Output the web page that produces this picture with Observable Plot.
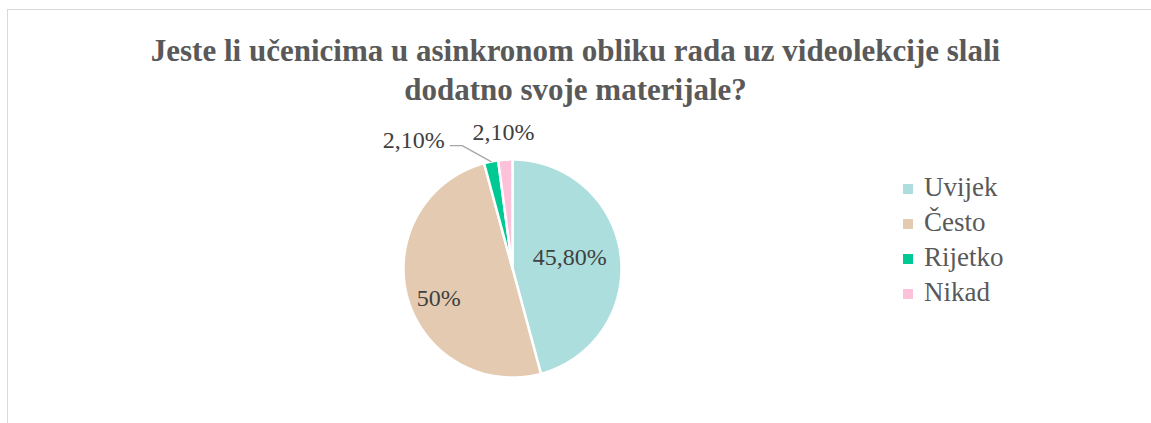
<!DOCTYPE html>
<html>
<head>
<meta charset="utf-8">
<script src="https://cdn.jsdelivr.net/npm/d3@7"></script>
<script src="https://cdn.jsdelivr.net/npm/@observablehq/plot@0.6"></script>
<style>
  html, body { margin: 0; padding: 0; background: #fff; }
  #wrap { position: relative; width: 1151px; height: 423px; overflow: hidden; font-family: "Liberation Serif", "Times New Roman", serif; }
  #frame { position: absolute; left: 7px; top: 9px; width: 1200px; height: 500px; border-top: 1px solid #d9d9d9; border-left: 1px solid #d9d9d9; }
  #title { position: absolute; left: 0; top: 31px; width: 1151px; text-align: center; font-weight: bold; font-size: 31px; line-height: 39px; color: #595959; }
  #legend { position: absolute; left: 903px; top: 170px; font-size: 27px; color: #595959; font-family: "Liberation Serif", "Times New Roman", serif; }
  .li { height: 35px; line-height: 35px; white-space: nowrap; }
  .sw { display: inline-block; width: 10px; height: 10px; margin-right: 11px; vertical-align: 2px; }
  #chart { position: absolute; left: 0; top: 0; }
</style>
</head>
<body>
<div id="wrap">
  <div id="frame"></div>
  <div id="chart"></div>
  <div id="title">Jeste li učenicima u asinkronom obliku rada uz videolekcije slali<br>dodatno svoje materijale?</div>
  <div id="legend"></div>
</div>
<script>
// ---- data ----
const categories = ["Uvijek", "Često", "Rijetko", "Nikad"];
const values = [45.8, 50, 2.1, 2.1];
const labels = ["45,80%", "50%", "2,10%", "2,10%"];
const colors = ["#acdedd", "#e4cab0", "#00c994", "#fdc1da"];

// ---- build slices ----
const table = categories.map((c, i) => ({category: c, value: values[i], label: labels[i]}));
const arcs = d3.pie().sort(null).value(d => d.value)(table);
const polar = (r, a) => ({x: r * Math.sin(a), y: r * Math.cos(a)});

const slicePts = [];
arcs.forEach(a => {
  const n = Math.max(4, Math.ceil((a.endAngle - a.startAngle) / (Math.PI / 360)));
  slicePts.push({category: a.data.category, ...polar(0, 0)});
  for (let k = 0; k <= n; k++) {
    const ang = a.startAngle + (a.endAngle - a.startAngle) * k / n;
    slicePts.push({category: a.data.category, ...polar(1, ang)});
  }
  slicePts.push({category: a.data.category, ...polar(0, 0)});
});

const mid = a => (a.startAngle + a.endAngle) / 2;
const big = arcs.filter(a => a.data.value >= 10);
const small = arcs.filter(a => a.data.value < 10);
const labU = [{label: big[0].data.label, ...polar(0.53, mid(big[0]))}];
const labC = [{label: big[1].data.label, ...polar(0.72, mid(big[1]))}];
const nik = small[1];
const labN = [{label: nik.data.label, ...polar(1.25, mid(nik))}];
const rij = small[0];
const edge = polar(1.0, mid(rij));
const elbow = {x: edge.x - 0.265, y: edge.y + 0.147};
const lineEnd = {x: elbow.x - 0.11, y: elbow.y};
const leader = [edge, elbow, lineEnd];
const labR = [{label: rij.data.label, x: lineEnd.x - 0.05, y: lineEnd.y + 0.045}];

const font = {fill: "#404040", fontSize: 24, fontFamily: "Liberation Serif, Times New Roman, serif"};
const chart = Plot.plot({
  width: 1151,
  height: 423,
  margin: 0,
  x: {domain: [-1, 1], range: [403, 621], axis: null},
  y: {domain: [-1, 1], range: [377, 159], axis: null},
  color: {domain: categories, range: colors},
  style: {background: "transparent", overflow: "visible"},
  marks: [
    Plot.line(slicePts, {x: "x", y: "y", z: "category", fill: "category", stroke: "white", strokeWidth: 2.5, strokeLinejoin: "miter", curve: "linear"}),
    Plot.line(leader, {x: "x", y: "y", stroke: "#a6a6a6", strokeWidth: 1.2}),
    Plot.text(labU, {x: "x", y: "y", text: "label", ...font, textAnchor: "middle", dy: -4}),
    Plot.text(labC, {x: "x", y: "y", text: "label", ...font, textAnchor: "middle", dx: 2, dy: 9}),
    Plot.text(labN, {x: "x", y: "y", text: "label", ...font, textAnchor: "middle"}),
    Plot.text(labR, {x: "x", y: "y", text: "label", ...font, textAnchor: "end"})
  ]
});
document.getElementById("chart").appendChild(chart);

const leg = document.getElementById("legend");
categories.forEach((c, i) => {
  const row = document.createElement("div");
  row.className = "li";
  row.innerHTML = `<span class="sw" style="background:${colors[i]}"></span>${c}`;
  leg.appendChild(row);
});
</script>
</body>
</html>
